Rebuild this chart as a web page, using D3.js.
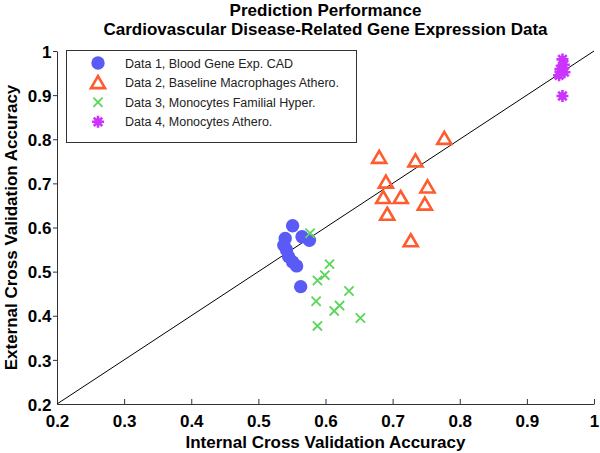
<!DOCTYPE html>
<html><head><meta charset="utf-8">
<script src="https://cdn.jsdelivr.net/npm/d3@7"></script>
<style>body{margin:0;background:#fff}svg{display:block}text{font-family:"Liberation Sans",Arial,sans-serif}</style>
</head><body>
<svg id="c" width="600" height="453"></svg>
<script>
const titleLines = ["Prediction Performance", "Cardiovascular Disease-Related Gene Expression Data"];
const xLabel = "Internal Cross Validation Accuracy";
const yLabel = "External Cross Validation Accuracy";
const tickValues = [0.2, 0.3, 0.4, 0.5, 0.6, 0.7, 0.8, 0.9, 1];
const tickLabels = ["0.2", "0.3", "0.4", "0.5", "0.6", "0.7", "0.8", "0.9", "1"];
const seriesNames = ["Data 1, Blood Gene Exp. CAD", "Data 2, Baseline Macrophages Athero.", "Data 3, Monocytes Familial Hyper.", "Data 4, Monocytes Athero."];
const data1X = [0.551, 0.540, 0.538, 0.542, 0.545, 0.551, 0.557, 0.565, 0.576, 0.563];
const data1Y = [0.604, 0.575, 0.560, 0.549, 0.534, 0.522, 0.513, 0.579, 0.571, 0.466];
const data2X = [0.777, 0.680, 0.734, 0.690, 0.752, 0.686, 0.712, 0.748, 0.692, 0.727];
const data2Y = [0.802, 0.759, 0.751, 0.703, 0.692, 0.668, 0.668, 0.653, 0.630, 0.570];
const data3X = [0.577, 0.606, 0.599, 0.588, 0.635, 0.586, 0.621, 0.613, 0.652, 0.588];
const data3Y = [0.587, 0.517, 0.492, 0.480, 0.456, 0.433, 0.423, 0.411, 0.395, 0.377];
const data4X = [0.953, 0.955, 0.950, 0.956, 0.948, 0.953];
const data4Y = [0.981, 0.969, 0.959, 0.952, 0.945, 0.898];
const refLine = [0.2, 1];

const svg = d3.select("#c");
const x = d3.scaleLinear().domain([0.2, 1]).range([57, 594]);
const y = d3.scaleLinear().domain([0.2, 1]).range([404, 51]);

// titles
svg.selectAll("text.title").data(titleLines).join("text").attr("class", "title")
  .attr("x", 325.5).attr("y", (d, i) => 16 + i * 18.5)
  .attr("text-anchor", "middle").attr("font-size", 17).attr("font-weight", "bold").text(d => d);

// axes
const xAxis = d3.axisBottom(x).tickValues(tickValues).tickFormat((d, i) => tickLabels[i]).tickSizeInner(-5).tickSizeOuter(0);
const gx = svg.append("g").attr("transform", "translate(0,404)").call(xAxis);
gx.selectAll("text").attr("font-size", 17).attr("font-weight", "bold").attr("fill", "#000").attr("dy", null).attr("y", 22.5);
const yAxis = d3.axisLeft(y).tickValues(tickValues).tickFormat((d, i) => tickLabels[i]).tickSizeInner(4).tickSizeOuter(0);
const gy = svg.append("g").attr("transform", "translate(57,0)").call(yAxis);
gy.selectAll("text").attr("font-size", 17).attr("font-weight", "bold").attr("fill", "#000").attr("x", -5.5).attr("dy", "0.36em");
svg.selectAll(".domain, .tick line").attr("stroke", "#333");
svg.selectAll(".tick").filter(d => d === 0.2).select("line").attr("opacity", 0);

svg.append("text").attr("x", 325.5).attr("y", 448).attr("text-anchor", "middle")
  .attr("font-size", 17).attr("font-weight", "bold").text(xLabel);
svg.append("text").attr("transform", "translate(16.5,227.5) rotate(-90)").attr("text-anchor", "middle")
  .attr("font-size", 17).attr("font-weight", "bold").text(yLabel);

// reference line
svg.append("line").attr("x1", x(refLine[0])).attr("y1", y(refLine[0])).attr("x2", x(refLine[1])).attr("y2", y(refLine[1]))
  .attr("stroke", "#000").attr("stroke-width", 1);

const colors = ["#5a5af7", "#ff5b2e", "#5ad65a", "#cc33ff"];
function drawMarker(g, k, cx, cy) {
  if (k === 0) {
    g.append("circle").attr("cx", cx).attr("cy", cy).attr("r", 6.7).attr("fill", colors[0]);
  } else if (k === 1) {
    const h = 6.5;
    g.append("path").attr("d", `M${cx},${cy - h}L${cx + h * 1.08},${cy + h * 0.85}L${cx - h * 1.08},${cy + h * 0.85}Z`)
      .attr("fill", "none").attr("stroke", colors[1]).attr("stroke-width", 2.6).attr("stroke-linejoin", "miter");
  } else if (k === 2) {
    const h = 4.6;
    g.append("path").attr("d", `M${cx - h},${cy - h}L${cx + h},${cy + h}M${cx - h},${cy + h}L${cx + h},${cy - h}`)
      .attr("stroke", colors[2]).attr("stroke-width", 1.8).attr("fill", "none");
  } else {
    const r = 6;
    let d = "";
    for (let a = 0; a < 4; a++) {
      const t = a * Math.PI / 4;
      d += `M${cx - r * Math.cos(t)},${cy - r * Math.sin(t)}L${cx + r * Math.cos(t)},${cy + r * Math.sin(t)}`;
    }
    g.append("path").attr("d", d).attr("stroke", colors[3]).attr("stroke-width", 2.6).attr("fill", "none");
    g.append("circle").attr("cx", cx).attr("cy", cy).attr("r", 3.5).attr("fill", colors[3]);
  }
}

const series = [[data1X, data1Y], [data2X, data2Y], [data3X, data3Y], [data4X, data4Y]];
const marks = svg.append("g");
series.forEach(([xs, ys], k) => {
  const g = marks.append("g").attr("class", "series" + k);
  xs.forEach((v, i) => drawMarker(g, k, x(v), y(ys[i])));
});

// legend
const lg = svg.append("g");
lg.append("rect").attr("x", 66.5).attr("y", 50.5).attr("width", 290).attr("height", 92)
  .attr("fill", "#fff").attr("stroke", "#333").attr("stroke-width", 1);
seriesNames.forEach((name, k) => {
  const yy = 63 + k * 19.6;
  drawMarker(lg, k, 98, yy);
  lg.append("text").attr("x", 125).attr("y", yy).attr("dy", "0.36em").attr("font-size", 12.5).attr("fill", "#222").text(name);
});
</script>
</body></html>
